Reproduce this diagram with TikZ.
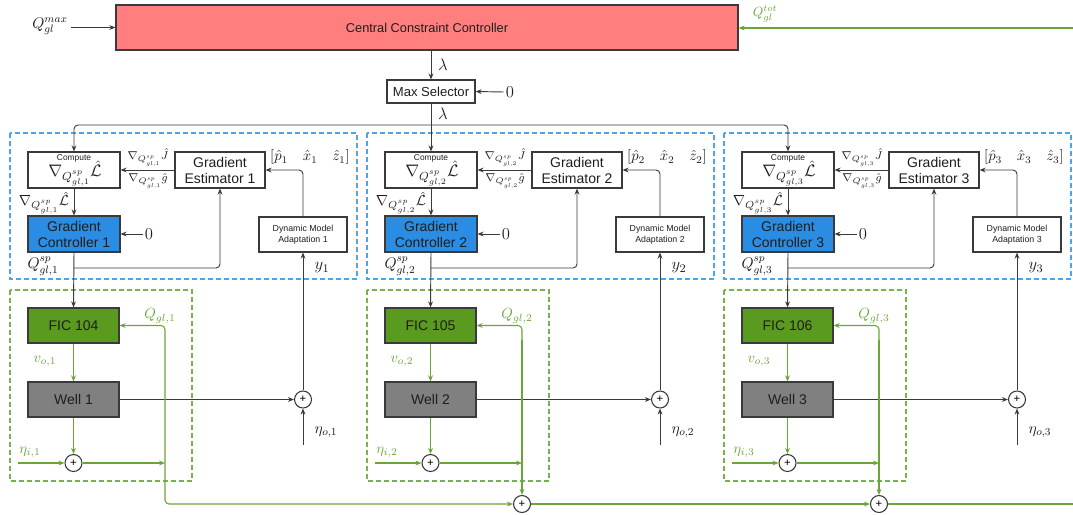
\RequirePackage{fix-cm}
\documentclass[tikz,border=0pt]{standalone}
\usepackage{fontspec}
\setsansfont{Liberation Sans}
\usetikzlibrary{arrows.meta,calc}

\definecolor{cccred}{HTML}{FF7F7F}
\definecolor{gcblue}{HTML}{2A8DE3}
\definecolor{ficgreen}{HTML}{5A9A1F}
\definecolor{wellgray}{HTML}{808080}
\definecolor{sigreen}{HTML}{6BA539}
\definecolor{dashblue}{HTML}{4AA6EC}
\definecolor{dashgreen}{HTML}{77B24A}
\definecolor{edge}{HTML}{3A3A3A}
\definecolor{txt}{HTML}{1E1E1E}

\begin{document}
\begin{tikzpicture}[x=0.75pt,y=-0.75pt,
  blk/.style={draw=edge,line width=0.9pt,inner sep=0pt,align=center,text=txt,
    font=\sffamily\fontsize{10.5}{12}\selectfont},
  wire/.style={draw=edge,line width=0.7pt,-{Stealth[length=4.5pt,width=3.6pt]}},
  gwire/.style={draw=sigreen,line width=0.8pt,-{Stealth[length=4.5pt,width=3.6pt]}},
  gline/.style={draw=sigreen,line width=0.8pt},
  sumnode/.style={circle,draw=edge,line width=0.8pt,fill=white,minimum size=12.75pt,
    inner sep=0pt,font=\sffamily\fontsize{8.5}{8}\selectfont},
  lbl/.style={inner sep=0pt,text=txt,font=\fontsize{12.5}{14}\selectfont},
  glbl/.style={inner sep=0pt,text=sigreen,font=\fontsize{11}{13}\selectfont},
  bluebox/.style={draw=dashblue,line width=0.8pt,dash pattern=on 3.5pt off 2.5pt},
  greenbox/.style={draw=dashgreen,line width=0.8pt,dash pattern=on 3.5pt off 2.5pt},
]
\useasboundingbox (0,0) rectangle (1073,514);

% ---- supervisory layer ----
\node[blk,fill=cccred,minimum width=466.5pt,minimum height=33.75pt,
      font=\sffamily\fontsize{9.6}{11}\selectfont] (ccc) at (427,27.5)
      {Central Constraint Controller};
\node[lbl,font=\fontsize{11.5}{14}\selectfont] (qmax) at (50,26) {$Q_{gl}^{max}$};
\draw[wire] (ccc.west -| qmax.east) ++(3,0) -- (ccc.west);
\node[glbl,font=\fontsize{10}{13}\selectfont] (qtot) at (765,14) {$Q_{gl}^{tot}$};
\coordinate (qtotin) at (1073,28);
\draw[gwire] (qtotin) -- (ccc.east |- qtotin);

\node[blk,minimum width=66pt,minimum height=17.25pt,
      font=\sffamily\fontsize{9.8}{11}\selectfont] (maxsel) at (431,91.5) {Max Selector};
\draw[wire] (ccc.south -| maxsel.north) -- (maxsel.north);
\node[lbl] at (443,65) {$\lambda$};
\node[lbl] (zerotop) at (510,92) {$0$};
\draw[wire] (zerotop.west) ++(-2,0) -- (maxsel.east);
\node[lbl] at (443,114) {$\lambda$};

% ---- one subsystem per well ----
\foreach \i/\dx/\tag in {1/0/104,2/357/105,3/714/106}{
\begin{scope}[xshift=\dx*0.75pt]
  \draw[bluebox] (10,133) rectangle (357,279);
  \draw[greenbox] (10,290) rectangle (192,481);

  \node[blk,minimum width=69pt,minimum height=27pt] (comp\i) at (74,170) {};
  \node[inner sep=0pt,text=txt,font=\sffamily\fontsize{6.3}{6}\selectfont] at (74,158) {Compute};
  \node[inner sep=0pt,text=txt,font=\fontsize{12.5}{14}\selectfont] at (75,173.5) {$\nabla_{Q^{sp}_{gl,\i}}\hat{\mathcal{L}}$};

  \node[blk,minimum width=67.5pt,minimum height=27pt] (ge\i) at (220,170)
       {Gradient\\Estimator \i};
  \node[blk,fill=gcblue,minimum width=69pt,minimum height=27pt] (gc\i) at (74,234)
       {Gradient\\Controller \i};
  \node[blk,minimum width=66pt,minimum height=26.25pt,
        font=\sffamily\fontsize{6.6}{8}\selectfont] (dma\i) at (303,234.5)
       {Dynamic Model\\Adaptation \i};
  \node[blk,fill=ficgreen,minimum width=68.25pt,minimum height=26.25pt] (fic\i) at (73.5,325.5)
       {FIC \tag};
  \node[blk,fill=wellgray,minimum width=68.25pt,minimum height=26.25pt] (well\i) at (73.5,399.5)
       {Well \i};
  \node[sumnode] (sumo\i) at (303,399.5) {+};
  \node[sumnode] (sumi\i) at (73.5,463) {+};

  % gradient loop
  \draw[wire] (ge\i.west) -- (comp\i.east);
  \node[inner sep=0pt,text=txt,font=\fontsize{8.5}{10}\selectfont] at (148,157.5) {$\nabla_{Q^{sp}_{gl,\i}}\hat{J}$};
  \node[inner sep=0pt,text=txt,font=\fontsize{8.5}{10}\selectfont] at (148,181) {$\nabla_{Q^{sp}_{gl,\i}}\hat{g}$};
  \draw[wire] (comp\i.south) -- (gc\i.north);
  \node[inner sep=0pt,text=txt,font=\fontsize{11}{12}\selectfont] at (44,203) {$\nabla_{Q^{sp}_{gl,\i}}\hat{\mathcal{L}}$};
  \node[lbl] (zero\i) at (149,234) {$0$};
  \draw[wire] (zero\i.west) ++(-2,0) -- (gc\i.east);
  \draw[wire] (gc\i.south) -- (fic\i.north);
  \coordinate (br\i) at (74,268);
  \draw[wire,rounded corners=3pt] (br\i) -| (ge\i.south);
  \node[inner sep=0pt,text=txt,font=\fontsize{11.5}{12}\selectfont] at (43,266) {$Q^{sp}_{gl,\i}$};

  % model adaptation
  \draw[wire,rounded corners=3pt] (dma\i.north) |- (ge\i.east);
  \node[inner sep=0pt,text=txt,font=\fontsize{11}{12}\selectfont] at (310,157)
       {$\big[\hat{p}_\i\quad\hat{x}_\i\quad\hat{z}_\i\big]$};
  \draw[wire] (sumo\i.north) -- (dma\i.south);
  \node[lbl] at (322,268) {$y_\i$};
  \draw[wire] (well\i.east) -- (sumo\i.west);
  \coordinate (etao\i) at (303,445);
  \draw[wire] (etao\i) -- (sumo\i.south);
  \node[lbl,font=\fontsize{11.5}{14}\selectfont] at (326,432) {$\eta_{o,\i}$};

  % plant signals
  \draw[gwire] (fic\i.south) -- (well\i.north);
  \node[glbl] at (45,361) {$v_{o,\i}$};
  \draw[gwire] (well\i.south) -- (sumi\i.north);
  \coordinate (etai\i) at (18,463);
  \draw[gwire] (etai\i) -- (sumi\i.west);
  \node[glbl] at (30,452) {$\eta_{i,\i}$};
  \coordinate (qo\i) at (165,463);
  \draw[gwire] (sumi\i.east) -- (qo\i);
  \coordinate (qv\i) at (165,340);
  \draw[gwire,rounded corners=3pt] (qv\i) |- (fic\i.east);
  \node[glbl] at (160,316) {$Q_{gl,\i}$};
\end{scope}
}

% ---- total gas-lift summation ----
\node[sumnode] (sumB) at (522,504) {+};
\node[sumnode] (sumC) at (879,504) {+};
\draw[gwire,rounded corners=3pt] (qv1) |- (sumB.west);
\draw[gwire] (qv2) -- (sumB.north);
\draw[gwire] (qv3) -- (sumC.north);
\draw[gwire] (sumB.east) -- (sumC.west);
\coordinate (qtotout) at (1073,504);
\draw[gline] (sumC.east) -- (qtotout);

% ---- lambda distribution ----
\coordinate (split) at (431,125);
\draw[wire] (maxsel.south) -- (comp2.north);
\draw[wire,rounded corners=3pt] (split) -| (comp1.north);
\draw[wire,rounded corners=3pt] (split) -| (comp3.north);
\end{tikzpicture}
\end{document}
